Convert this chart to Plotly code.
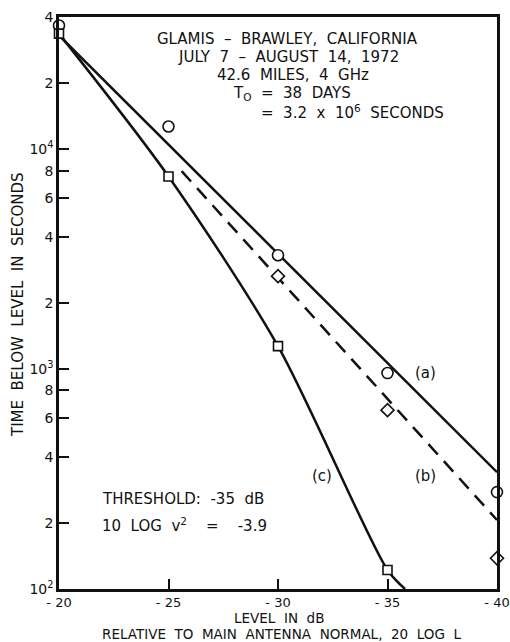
import plotly.graph_objects as go

# ---- data ----
levels = [-20, -25, -30, -35, -40]
a_points = [36600, 12700, 3300, 960, 276]          # circles
b_levels = [-30, -35, -40]
b_points = [2650, 651, 138]                        # diamonds
c_levels = [-20, -25, -30, -35]
c_points = [33600, 7530, 1273, 122]                # squares

a_line_x = [-20, -40]
a_line_y = [33000, 340]
b_line_x = [-25.6, -40]
b_line_y = [7960, 206]
c_curve_x = [-20, -25, -30, -35, -35.8]
c_curve_y = [33600, 7530, 1273, 122, 100]

x_ticks = [-20, -25, -30, -35, -40]
x_ticktext = ["- 20", "- 25", "- 30", "- 35", "- 40"]
y_ticks = [100, 200, 400, 600, 800, 1000, 2000, 4000, 6000, 8000, 10000, 20000, 40000]
y_ticktext = ["10<sup>2</sup>", "2", "4", "6", "8", "10<sup>3</sup>", "2", "4", "6", "8",
              "10<sup>4</sup>", "2", "4"]

info_lines = ["GLAMIS – BRAWLEY, CALIFORNIA", "JULY 7 – AUGUST 14, 1972",
              "42.6 MILES, 4 GHz", "T<sub>O</sub> = 38 DAYS",
              "= 3.2 x 10<sup>6</sup> SECONDS"]
threshold_lines = ["THRESHOLD: -35 dB", "10 LOG v<sup>2</sup>  =  -3.9"]
y_title = "TIME BELOW LEVEL IN SECONDS"
x_title = ["LEVEL IN dB", "RELATIVE TO MAIN ANTENNA NORMAL, 20 LOG L"]

FONT = "DejaVu Sans, Verdana, sans-serif"
BLACK = "#111111"
FS = 15


def wide(s):
    # the original lettering has wide word spacing
    return s.replace(" ", "\u00a0\u00a0")


fig = go.Figure()

fig.add_trace(go.Scatter(x=a_line_x, y=a_line_y, mode="lines",
                         line=dict(color=BLACK, width=2.5), cliponaxis=False))
fig.add_trace(go.Scatter(x=b_line_x, y=b_line_y, mode="lines",
                         line=dict(color=BLACK, width=2.5, dash="14px,9px"), cliponaxis=False))
fig.add_trace(go.Scatter(x=c_curve_x, y=c_curve_y, mode="lines",
                         line=dict(color=BLACK, width=2.5, shape="spline", smoothing=0.8),
                         cliponaxis=False))

fig.add_trace(go.Scatter(x=levels, y=a_points, mode="markers", cliponaxis=False,
                         marker=dict(symbol="circle", size=11, color="white",
                                     line=dict(color=BLACK, width=1.6))))
fig.add_trace(go.Scatter(x=b_levels, y=b_points, mode="markers", cliponaxis=False,
                         marker=dict(symbol="diamond", size=10, color="white",
                                     line=dict(color=BLACK, width=1.6))))
fig.add_trace(go.Scatter(x=c_levels, y=c_points, mode="markers", cliponaxis=False,
                         marker=dict(symbol="square", size=9, color="white",
                                     line=dict(color=BLACK, width=1.6))))


def px2paper(px, py):
    return (px - 59) / 438, (589 - py) / 572


def add_text(anns, txt, px, py, anchor="center", angle=0, size=FS):
    x, y = px2paper(px, py)
    anns.append(dict(text=txt, xref="paper", yref="paper", x=x, y=y, textangle=angle,
                     xanchor=anchor, yanchor="middle", showarrow=False,
                     font=dict(family=FONT, size=size, color=BLACK)))


annotations = []
info_y = [39, 57, 75, 93, 112]
info_x = [287, 288, 293, 292, 352]
for txt, py, px in zip(info_lines, info_y, info_x):
    add_text(annotations, wide(txt), px, py)

for txt, px, py in [("(a)", 425, 373), ("(b)", 425, 476), ("(c)", 322, 476)]:
    add_text(annotations, txt, px, py)

for txt, py in zip(threshold_lines, [499, 525]):
    add_text(annotations, wide(txt), 100, py, anchor="left")

add_text(annotations, wide(y_title), 18, 305, angle=-90)
add_text(annotations, wide(x_title[0]), 279, 618, size=13.5)
add_text(annotations, wide(x_title[1]), 281, 634, size=13.5)

fig.update_layout(
    width=510, height=642,
    margin=dict(l=59, r=13, t=17, b=53),
    paper_bgcolor="white", plot_bgcolor="white",
    showlegend=False,
    annotations=annotations,
    font=dict(family=FONT, size=FS, color=BLACK),
)
fig.update_xaxes(range=[-20, -40], tickvals=x_ticks, ticktext=x_ticktext,
                 ticks="inside", ticklen=10, tickwidth=2, tickcolor=BLACK,
                 showline=True, linewidth=2.5, linecolor=BLACK, mirror=True,
                 showgrid=False, zeroline=False, automargin=False,
                 ticklabeloverflow="allow",
                 tickfont=dict(family=FONT, size=13, color=BLACK))
fig.update_yaxes(type="log", range=[2, 4.60206], tickvals=y_ticks, ticktext=y_ticktext,
                 ticks="inside", ticklen=10, tickwidth=2, tickcolor=BLACK,
                 showline=True, linewidth=2.5, linecolor=BLACK, mirror=True,
                 showgrid=False, zeroline=False, automargin=False,
                 ticklabeloverflow="allow",
                 tickfont=dict(family=FONT, size=14, color=BLACK))

fig.write_html("out.html", config={"displayModeBar": False},
               post_script="document.body.style.margin='0';document.body.style.overflow='hidden';")
